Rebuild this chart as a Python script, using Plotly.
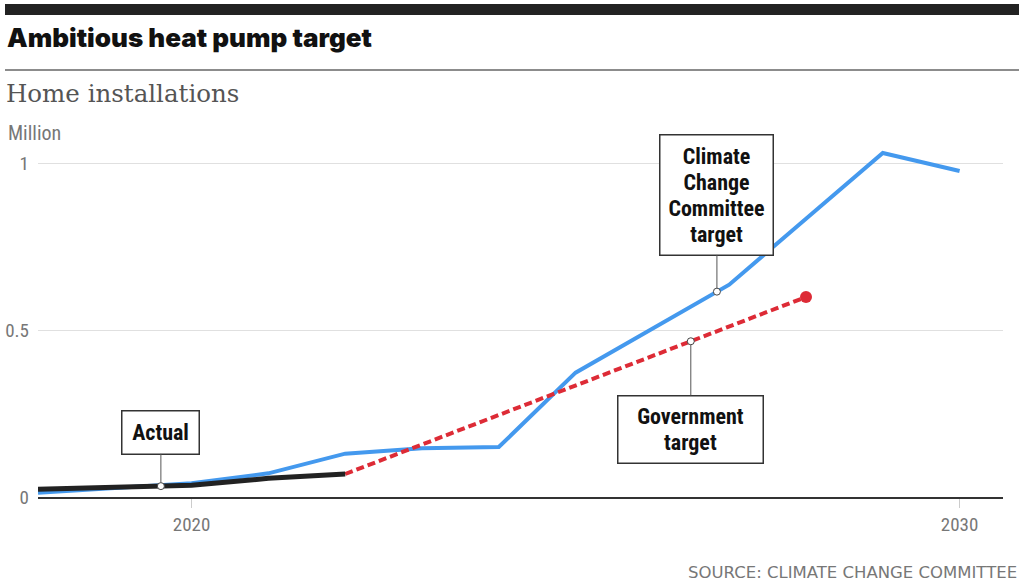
import plotly.graph_objects as go
import numpy as np

# ---- data (million home installations) ----
ccc_years = [2018, 2020, 2021, 2022, 2023, 2024, 2025, 2026, 2027, 2028, 2029, 2030]
ccc_values = [0.013, 0.041, 0.071, 0.130, 0.146, 0.150, 0.373, 0.506, 0.637, 0.835, 1.032, 0.978]

actual_years = [2018, 2020, 2021, 2022]
actual_values = [0.023, 0.035, 0.056, 0.069]

gov_years = [2022, 2028]
gov_values = [0.069, 0.600]

y_ticks = [0, 0.5, 1]
y_tick_labels = ["0", "0.5", "1"]
x_ticks = [2020, 2030]
x_tick_labels = ["2020", "2030"]

# annotation anchor years (label positions on each series)
actual_label_year = 2019.6
ccc_label_year = 2026.84
gov_label_year = 2026.5

BLUE = "#4499ee"
RED = "#dd2b36"
BLACK = "#222222"
COND = "Roboto Condensed, Roboto, sans-serif"

W, H = 1024, 588
ML, MR, MT, MB = 38, 21, 140, 91
PW, PH = W - ML - MR, H - MT - MB


def px(x):
    return (x - ML) / PW


def py(y):
    return (H - MB - y) / PH


def big(text):
    return "<br>".join('<span style="font-size:22px">%s</span>' % t for t in text.split("<br>"))


fig = go.Figure()
fig.add_trace(go.Scatter(x=ccc_years, y=ccc_values, mode="lines",
                         line=dict(color=BLUE, width=4), hoverinfo="skip"))
fig.add_trace(go.Scatter(x=gov_years, y=gov_values, mode="lines",
                         line=dict(color=RED, width=4, dash="8px,4px"), hoverinfo="skip"))
fig.add_trace(go.Scatter(x=gov_years[-1:], y=gov_values[-1:], mode="markers",
                         marker=dict(color=RED, size=12), hoverinfo="skip"))
fig.add_trace(go.Scatter(x=actual_years, y=actual_values, mode="lines",
                         line=dict(color=BLACK, width=5), hoverinfo="skip"))

anchors = [
    (actual_label_year, float(np.interp(actual_label_year, actual_years, actual_values)),
     "Actual", -54, 76, 42),
    (ccc_label_year, float(np.interp(ccc_label_year, ccc_years, ccc_values)),
     "Climate<br>Change<br>Committee<br>target", -97, 112, 119),
    (gov_label_year, float(np.interp(gov_label_year, gov_years, gov_values)),
     "Government<br>target", 88, 144, 66),
]

fig.add_trace(go.Scatter(x=[a[0] for a in anchors], y=[a[1] for a in anchors], mode="markers",
                         marker=dict(color="white", size=7, line=dict(color="#444", width=1)),
                         hoverinfo="skip"))

annotations = []
for ax_, ay_, text, off, bw, bh in anchors:
    annotations.append(dict(
        x=ax_, y=ay_, xref="x", yref="y", text=big(text), showarrow=True,
        arrowhead=0, arrowwidth=1, arrowcolor="#555", ax=0, ay=off, standoff=3.5,
        bordercolor="#333", borderwidth=1.5, borderpad=0, bgcolor="white",
        width=bw, height=bh, align="center",
        font=dict(family=COND, size=20, color="#111", weight="bold"),
    ))

annotations += [
    dict(x=px(5), y=py(38), xref="paper", yref="paper", xanchor="left", yanchor="middle",
         text="Ambitious heat pump target", showarrow=False,
         font=dict(family="Inter, Roboto, sans-serif", size=26, color="#111", weight=900)),
    dict(x=px(4), y=py(93), xref="paper", yref="paper", xanchor="left", yanchor="middle",
         text="Home installations", showarrow=False,
         font=dict(family="DejaVu Serif, Liberation Serif, serif", size=24.5, color="#555")),
    dict(x=px(6), y=py(133), xref="paper", yref="paper", xanchor="left", yanchor="middle",
         text="Million", showarrow=False,
         font=dict(family=COND, size=20, color="#777")),
    dict(x=px(1019), y=py(572), xref="paper", yref="paper", xanchor="right", yanchor="middle",
         text="SOURCE: CLIMATE CHANGE COMMITTEE", showarrow=False,
         font=dict(family="DejaVu Sans, sans-serif", size=16.5, color="#777")),
]

shapes = [
    dict(type="rect", xref="paper", yref="paper", x0=px(5), x1=px(1019), y0=py(15), y1=py(4),
         fillcolor="#222", line=dict(width=0), layer="above"),
    dict(type="line", xref="paper", yref="paper", x0=px(5), x1=px(1019), y0=py(70), y1=py(70),
         line=dict(color="#666", width=1.5)),
]

fig.update_layout(
    width=W, height=H, margin=dict(l=ML, r=MR, t=MT, b=MB, autoexpand=False),
    paper_bgcolor="white", plot_bgcolor="white", showlegend=False,
    annotations=annotations, shapes=shapes,
    xaxis=dict(range=[2018, 2030.565], tickvals=x_ticks, ticktext=x_tick_labels,
               showgrid=False, zeroline=False, showline=True, linecolor="#333", linewidth=2,
               ticks="outside", ticklen=9, tickcolor="#ccc", tickwidth=1, automargin=False,
               tickfont=dict(family=COND, size=19, color="#777"), fixedrange=True),
    yaxis=dict(range=[0, 1.071], tickvals=y_ticks, ticktext=y_tick_labels,
               showgrid=True, gridcolor="#e0e0e0", gridwidth=1, zeroline=False,
               ticks="", ticklabelstandoff=8, automargin=False,
               tickfont=dict(family=COND, size=19, color="#777"), fixedrange=True),
)

fig.write_html("out.html", config={"displayModeBar": False},
               post_script="document.body.style.margin='0';")
